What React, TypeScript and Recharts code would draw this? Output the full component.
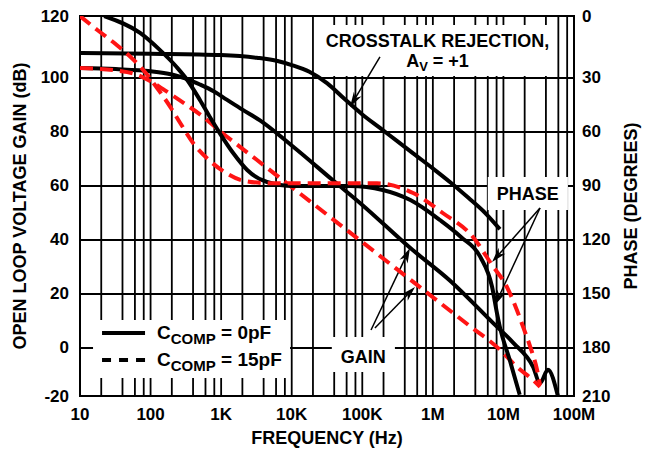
import React from "react";
import {
  LineChart,
  Line,
  XAxis,
  YAxis,
  CartesianGrid,
  ReferenceArea,
  ReferenceLine,
  Label,
} from "recharts";

// values, frequencies in Hz
const crosstalkFreq = [10, 100, 1000, 3200, 6300, 10000, 17800, 31600, 56200, 100000, 178000, 316000, 562000, 1e6, 1.78e6, 3.16e6, 5.62e6, 8.9e6];
const crosstalkDb = [109.3, 109, 108.5, 107.5, 106.3, 104.8, 102.3, 98.1, 92.2, 86.5, 81.5, 76.5, 71.5, 66.5, 61.3, 55.7, 49.8, 44];

const gain0Freq = [10, 32, 100, 200, 316, 500, 794, 1200, 2000, 3550, 10000, 38000, 100000, 480000, 1.74e6, 7.1e6, 1.38e7, 2.63e7, 3.3e7, 4.27e7, 5.9e7];
const gain0Db = [103.7, 103.3, 102.5, 101.3, 99.8, 97.6, 95, 92, 88.3, 84.3, 75, 62.2, 53, 37, 25, 9.3, 1.9, -7, -13, -8.1, -17.7];

const gain15Freq = [10, 32, 63, 100, 158, 251, 501, 1000, 3160, 10000, 31600, 100000, 316000, 1e6, 3.16e6, 8.9e6, 1.55e7, 2.63e7, 3.3e7];
const gain15Db = [103.7, 102.8, 101.3, 98.8, 95.5, 92, 86.5, 80, 69.8, 59.6, 49.4, 39.2, 29, 18.8, 8.6, -0.6, -7, -11.9, -14.4];

const phase0Freq = [22, 71, 135, 234, 331, 500, 692, 955, 1480, 2340, 4470, 10500, 67600, 195000, 480000, 1.26e6, 2.5e6, 4.7e6, 6.9e6, 8.1e6, 8.9e6, 1.23e7, 1.7e7];
const phase0Deg = [-4.4, 5, 14.4, 23.9, 31.1, 42.2, 51.7, 60.6, 71.7, 81.1, 87.8, 90, 90, 92.2, 97.8, 108.9, 118.3, 129.4, 146, 160.6, 168.3, 186.7, 206];

const phase15Freq = [10, 17.8, 31.6, 56, 89, 126, 190, 263, 398, 692, 1200, 2040, 4900, 74000, 162000, 525000, 1.38e6, 3.7e6, 6.9e6, 1.12e7, 1.55e7, 1.9e7, 2.4e7, 3e7, 3.3e7];
const phase15Deg = [-4.4, 3.5, 11, 19.5, 28, 36, 46, 55, 66, 76, 83, 87, 88.5, 88.5, 88.5, 93.9, 105, 118.3, 133.9, 146.1, 158.9, 168.3, 179.4, 192.2, 200.6];

// axes: the printed grid is a bit uneven at the ends, so the end labels sit on the frame
const gainTicks = [-17.78, 0, 20, 40, 60, 80, 100, 122.96];
const gainTickLabels = ["-20", "0", "20", "40", "60", "80", "100", "120"];
const phaseTicks = [-4.44, 30, 60, 90, 120, 150, 180, 206.67];
const phaseTickLabels = ["0", "30", "60", "90", "120", "150", "180", "210"];

const decades = [10, 100, 1e3, 1e4, 1e5, 1e6, 1e7, 1e8];
const decadeLabels = ["10", "100", "1K", "10K", "100K", "1M", "10M", "100M"];
const gridSteps = [1, 2, 4, 6, 8];
const gridFreqs = decades.flatMap((d, i) =>
  i < decades.length - 1 ? gridSteps.map((s) => s * d) : [d]
);

const xTitle = "FREQUENCY (Hz)";
const gainTitle = "OPEN LOOP VOLTAGE GAIN (dB)";
const phaseTitle = "PHASE (DEGREES)";

const legendItems = [
  { sub: "COMP", rest: " = 0pF", dash: undefined },
  { sub: "COMP", rest: " = 15pF", dash: "9 8" },
];

const FONT = "'Liberation Sans', Arial, Helvetica, sans-serif";
const RED = "#ff1414";
const DASH = "13 7";
const txt = { fontFamily: FONT, fontWeight: 700, fill: "#000" };

const toPoints = (fs: number[], vs: number[]) => fs.map((f, i) => ({ f, v: vs[i] }));

function XTick({ x, y, payload }: any) {
  const i = decades.indexOf(payload.value);
  if (i < 0) return <g />;
  return (
    <text {...txt} fontSize={17} x={x} y={y + 10} textAnchor="middle" dominantBaseline="central">
      {decadeLabels[i]}
    </text>
  );
}

function GainTick({ x, y, payload }: any) {
  const i = gainTicks.indexOf(payload.value);
  return (
    <text {...txt} fontSize={17} x={x - 3} y={y} textAnchor="end" dominantBaseline="central">
      {gainTickLabels[i]}
    </text>
  );
}

function PhaseTick({ x, y, payload }: any) {
  const i = phaseTicks.indexOf(payload.value);
  return (
    <text {...txt} fontSize={17} x={x} y={y} textAnchor="start" dominantBaseline="central">
      {phaseTickLabels[i]}
    </text>
  );
}

function Arrow(props: any) {
  const { x1, y1, x2, y2 } = props;
  const a = Math.atan2(y2 - y1, x2 - x1);
  const len = 15;
  const half = 4.5;
  const bx = x2 - len * Math.cos(a);
  const by = y2 - len * Math.sin(a);
  const nx = x2 - len * 0.7 * Math.cos(a);
  const ny = y2 - len * 0.7 * Math.sin(a);
  const px = -Math.sin(a) * half;
  const py = Math.cos(a) * half;
  return (
    <g>
      <line x1={x1} y1={y1} x2={nx} y2={ny} stroke="#000" strokeWidth={1.5} />
      <polygon
        points={`${x2},${y2} ${bx + px},${by + py} ${nx},${ny} ${bx - px},${by - py}`}
        fill="#000"
      />
    </g>
  );
}

function crosstalkText(props: any) {
  const { x, y, width } = props.viewBox;
  const cx = x + width / 2;
  return (
    <text {...txt} fontSize={18} textAnchor="middle">
      <tspan x={cx} y={y + 22}>CROSSTALK REJECTION,</tspan>
      <tspan x={cx} y={y + 42}>
        A<tspan fontSize={13} dy={4}>V</tspan>
        <tspan dy={-4}> = +1</tspan>
      </tspan>
    </text>
  );
}

function boxWord(word: string, down: number) {
  return (props: any) => {
    const { x, y, width } = props.viewBox;
    return (
      <text {...txt} fontSize={18} textAnchor="middle" x={x + width / 2} y={y + down}>
        {word}
      </text>
    );
  };
}

function legendBox(props: any) {
  const { x, y } = props.viewBox;
  return (
    <g>
      {legendItems.map((it, i) => {
        const ly = y + 13 + i * 27;
        return (
          <g key={i}>
            <line x1={x + 9} x2={x + 52} y1={ly} y2={ly} stroke="#000" strokeWidth={4} strokeDasharray={it.dash} />
            <text {...txt} fontSize={19} x={x + 64} y={ly + 6}>
              C<tspan fontSize={15} dy={5}>{it.sub}</tspan>
              <tspan dy={-5}>{it.rest}</tspan>
            </text>
          </g>
        );
      })}
    </g>
  );
}

function xTitleLabel(props: any) {
  const { x, y, width } = props.viewBox;
  return (
    <text {...txt} fontSize={18} x={x + width / 2} y={y + 42} textAnchor="middle" dominantBaseline="central">
      {xTitle}
    </text>
  );
}

function gainTitleLabel(props: any) {
  const { x, y, height } = props.viewBox;
  const cx = x - 10;
  const cy = y + height / 2;
  return (
    <text {...txt} fontSize={18} x={cx} y={cy} textAnchor="middle" dominantBaseline="central" transform={`rotate(-90 ${cx} ${cy})`}>
      {gainTitle}
    </text>
  );
}

function phaseTitleLabel(props: any) {
  const { x, y, width, height } = props.viewBox;
  const cx = x + width + 7;
  const cy = y + height / 2;
  return (
    <text {...txt} fontSize={18} x={cx} y={cy} textAnchor="middle" dominantBaseline="central" transform={`rotate(-90 ${cx} ${cy})`}>
      {phaseTitle}
    </text>
  );
}

export default function App() {
  return (
    <div style={{ width: 652, height: 452 }}>
      <style>{"body{margin:0}"}</style>
      <LineChart width={652} height={452} margin={{ top: 16, right: 28, bottom: 26, left: 30 }}>
        <CartesianGrid yAxisId="gain" stroke="#000" strokeWidth={1.8} />
        <XAxis
          dataKey="f"
          type="number"
          scale="log"
          domain={[10, 1e8]}
          allowDataOverflow
          ticks={gridFreqs}
          interval={0}
          tickLine={false}
          axisLine={false}
          height={30}
          tick={XTick}
        >
          <Label content={xTitleLabel} />
        </XAxis>
        <YAxis
          yAxisId="gain"
          type="number"
          domain={[gainTicks[0], gainTicks[gainTicks.length - 1]]}
          allowDataOverflow
          ticks={gainTicks}
          interval={0}
          tickLine={false}
          axisLine={false}
          width={50}
          tick={GainTick}
        >
          <Label content={gainTitleLabel} />
        </YAxis>
        <YAxis
          yAxisId="phase"
          orientation="right"
          type="number"
          reversed
          domain={[phaseTicks[0], phaseTicks[phaseTicks.length - 1]]}
          allowDataOverflow
          ticks={phaseTicks}
          interval={0}
          tickLine={false}
          axisLine={false}
          width={50}
          tick={PhaseTick}
        >
          <Label content={phaseTitleLabel} />
        </YAxis>

        {/* white label boxes that mask the grid */}
        <ReferenceArea yAxisId="gain" x1={29500} x2={4.6e7} y1={100.7} y2={119.6} fill="#fff" fillOpacity={1} stroke="none" label={crosstalkText} />
        <ReferenceArea yAxisId="gain" x1={6.0e6} x2={8.2e7} y1={51.1} y2={63.3} fill="#fff" fillOpacity={1} stroke="none" label={boxWord("PHASE", 23)} />
        <ReferenceArea yAxisId="gain" x1={37000} x2={290000} y1={-8.9} y2={4.07} fill="#fff" fillOpacity={1} stroke="none" label={boxWord("GAIN", 26)} />
        <ReferenceArea yAxisId="gain" x1={15.3} x2={9470} y1={-11.1} y2={10.4} fill="#fff" fillOpacity={1} stroke="none" label={legendBox} />

        <ReferenceLine yAxisId="gain" segment={[{ x: 178000, y: 107.8 }, { x: 67000, y: 89.3 }]} shape={Arrow} />
        <ReferenceLine yAxisId="gain" segment={[{ x: 3.3e7, y: 51.85 }, { x: 6.9e6, y: 31.85 }]} shape={Arrow} />
        <ReferenceLine yAxisId="gain" segment={[{ x: 3.3e7, y: 51.85 }, { x: 7.6e6, y: 15.9 }]} shape={Arrow} />
        <ReferenceLine yAxisId="gain" segment={[{ x: 133000, y: 6.67 }, { x: 474000, y: 37 }]} shape={Arrow} />
        <ReferenceLine yAxisId="gain" segment={[{ x: 151000, y: 7.4 }, { x: 558000, y: 22.6 }]} shape={Arrow} />

        <Line yAxisId="gain" data={toPoints(crosstalkFreq, crosstalkDb)} dataKey="v" type="monotone" stroke="#000" strokeWidth={4} dot={false} activeDot={false} isAnimationActive={false} />
        <Line yAxisId="gain" data={toPoints(gain0Freq, gain0Db)} dataKey="v" type="monotone" stroke="#000" strokeWidth={4} dot={false} activeDot={false} isAnimationActive={false} />
        <Line yAxisId="gain" data={toPoints(gain15Freq, gain15Db)} dataKey="v" type="monotone" stroke={RED} strokeWidth={4} strokeDasharray={DASH} dot={false} activeDot={false} isAnimationActive={false} />
        <Line yAxisId="phase" data={toPoints(phase0Freq, phase0Deg)} dataKey="v" type="monotone" stroke="#000" strokeWidth={4} dot={false} activeDot={false} isAnimationActive={false} />
        <Line yAxisId="phase" data={toPoints(phase15Freq, phase15Deg)} dataKey="v" type="monotone" stroke={RED} strokeWidth={4} strokeDasharray={DASH} dot={false} activeDot={false} isAnimationActive={false} />

        {/* plot frame */}
        <ReferenceArea yAxisId="gain" x1={10} x2={1e8} y1={gainTicks[0]} y2={gainTicks[gainTicks.length - 1]} fill="none" stroke="#000" strokeWidth={2} />
      </LineChart>
    </div>
  );
}
